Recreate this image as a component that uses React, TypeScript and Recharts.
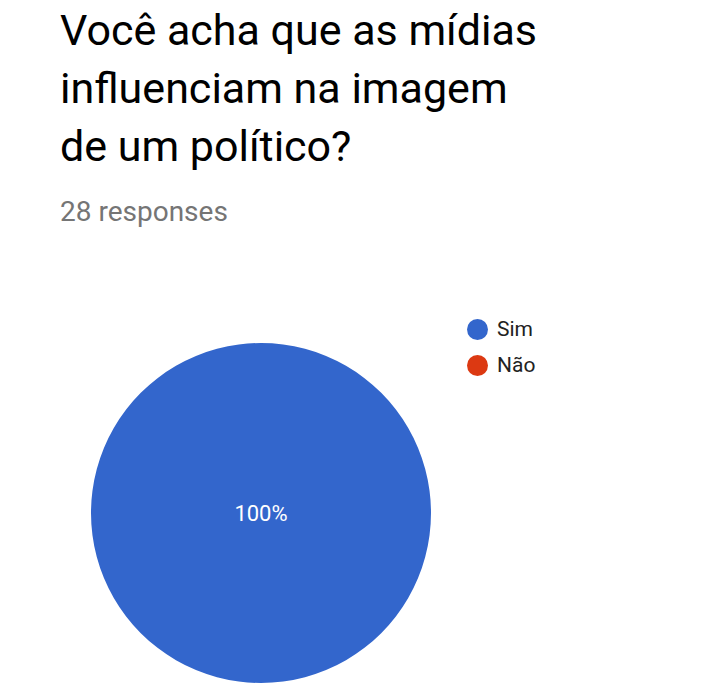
import React from 'react';
import { PieChart, Pie, Cell, Legend } from 'recharts';

const title = ['Você acha que as mídias', 'influenciam na imagem', 'de um político?'];
const responsesLabel = '28 responses';
const categories = ['Sim', 'Não'];
const counts = [28, 0];
const colors = ['#3366cc', '#dc3912'];

const data = categories.map((name, i) => ({ name, value: counts[i] }));

const FONT = 'Roboto, "Noto Sans", sans-serif';

// rótulo no centro quando só há uma fatia
const renderLabel = (props: any) => {
  const { cx, cy, midAngle, outerRadius, percent, value } = props;
  if (!value) return null;
  const RAD = Math.PI / 180;
  const r = percent >= 0.999 ? 0 : outerRadius * 0.6;
  const x = cx + r * Math.cos(-midAngle * RAD);
  const y = cy + r * Math.sin(-midAngle * RAD);
  return (
    <text
      x={x}
      y={y}
      fill="#ffffff"
      fontSize={22}
      fontFamily={FONT}
      textAnchor="middle"
      dominantBaseline="central"
    >
      {`${Math.round(percent * 100)}%`}
    </text>
  );
};

const renderLegend = (props: any) => {
  const items = [...(props.payload || [])].sort(
    (a: any, b: any) => categories.indexOf(a.value) - categories.indexOf(b.value)
  );
  return (
    <div style={{ fontFamily: FONT }}>
      {items.map((entry: any, i: number) => (
        <div key={i} style={{ display: 'flex', alignItems: 'center', height: 36 }}>
          <span
            style={{
              width: 21,
              height: 21,
              borderRadius: '50%',
              background: entry.color,
              display: 'inline-block',
              marginRight: 9,
            }}
          />
          <span style={{ fontSize: 21, color: '#222222' }}>{entry.value}</span>
        </div>
      ))}
    </div>
  );
};

export default function App() {
  return (
    <div style={{ position: 'relative', width: 704, height: 680, background: '#ffffff' }}>
      <div
        style={{
          position: 'absolute',
          left: 52,
          top: -7,
          fontFamily: FONT,
          fontSize: 43,
          lineHeight: '58px',
          color: '#000000',
          whiteSpace: 'nowrap',
        }}
      >
        {title.map((t, i) => (
          <div key={i}>{t}</div>
        ))}
      </div>
      <div
        style={{
          position: 'absolute',
          left: 52,
          top: 190,
          fontFamily: FONT,
          fontSize: 28,
          lineHeight: '28px',
          color: '#757575',
        }}
      >
        {responsesLabel}
      </div>
      <div style={{ position: 'absolute', left: 0, top: 0 }}>
        <PieChart width={704} height={680} margin={{ top: 0, right: 0, bottom: 0, left: 0 }}>
          <Pie
            data={data}
            dataKey="value"
            nameKey="name"
            cx={253}
            cy={505}
            outerRadius={170}
            startAngle={90}
            endAngle={-270}
            stroke="none"
            label={renderLabel}
            labelLine={false}
            isAnimationActive={false}
            legendType="circle"
          >
            {data.map((d, i) => (
              <Cell key={d.name} fill={colors[i]} />
            ))}
          </Pie>
          <Legend
            layout="vertical"
            verticalAlign="top"
            align="right"
            content={renderLegend}
            wrapperStyle={{ left: 459, top: 303, width: 150 }}
          />
        </PieChart>
      </div>
    </div>
  );
}
